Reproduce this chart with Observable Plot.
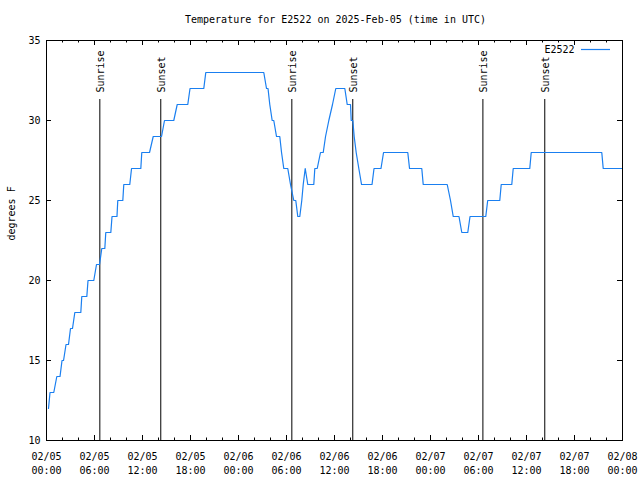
<!DOCTYPE html>
<html>
<head>
<meta charset="utf-8">
<script src="https://cdn.jsdelivr.net/npm/d3@7"></script>
<script src="https://cdn.jsdelivr.net/npm/@observablehq/plot@0.6"></script>
<style>
  html, body { margin: 0; padding: 0; background: #ffffff; }
</style>
</head>
<body>
<div id="chart"></div>
<script>
const title = "Temperature for E2522 on 2025-Feb-05 (time in UTC)";
const seriesName = "E2522";
const yLabel = "degrees F";
const startUTC = "2025-02-05T00:00:00Z";

// hours after 2025-02-05 00:00 UTC
const hours = [
  0.25, 0.44, 0.91, 1.29, 1.69, 1.94, 2.13, 2.44, 2.75, 3.0,
  3.25, 3.54, 4.29, 4.41, 5.04, 5.19, 5.91, 6.25, 6.63, 6.91,
  7.29, 7.41, 8.04, 8.19, 8.81, 8.91, 9.54, 9.66, 10.41, 10.63,
  11.79, 11.91, 12.88, 13.34, 14.38, 14.75, 15.91, 16.34, 17.66, 17.94,
  19.66, 19.91, 27.16, 27.5, 27.69, 27.91, 28.21, 28.41, 28.75, 29.16,
  29.38, 29.66, 30.16, 30.5, 30.91, 31.16, 31.41, 31.66, 31.91, 32.09,
  32.34, 32.66, 33.41, 33.54, 33.84, 34.25, 34.59, 34.88, 35.29, 35.75,
  36.16, 37.29, 37.59, 38.0, 38.09, 38.29, 38.46, 38.71, 39.04, 39.38,
  40.69, 40.94, 41.81, 42.13, 45.16, 45.38, 46.91, 47.09, 50.09, 50.5,
  50.84, 51.56, 51.91, 52.66, 52.94, 54.91, 55.15, 56.66, 56.84, 58.16,
  58.34, 60.41, 60.59, 69.41, 69.59, 72.0
];
const temps = [
  12, 13, 13, 14, 14, 15, 15, 16, 16, 17,
  17, 18, 18, 19, 19, 20, 20, 21, 21, 22,
  22, 23, 23, 24, 24, 25, 25, 26, 26, 27,
  27, 28, 28, 29, 29, 30, 30, 31, 31, 32,
  32, 33, 33, 32, 32, 31, 30, 30, 29, 29,
  28, 27, 27, 26, 25, 25, 24, 24, 25, 26,
  27, 26, 26, 27, 27, 28, 28, 29, 30, 31,
  32, 32, 31, 31, 30, 30, 29, 28, 27, 26,
  26, 27, 27, 28, 28, 27, 27, 26, 26, 25,
  24, 24, 23, 23, 24, 24, 25, 25, 26, 26,
  27, 27, 28, 28, 27, 27
];

const sunTimes = [
  "2025-02-05T06:40:00Z", "2025-02-05T14:17:00Z",
  "2025-02-06T06:40:00Z", "2025-02-06T14:17:00Z",
  "2025-02-07T06:33:00Z", "2025-02-07T14:17:00Z"
];
const sunLabels = ["Sunrise", "Sunset", "Sunrise", "Sunset", "Sunrise", "Sunset"];

const yTicks = [10, 15, 20, 25, 30, 35];
const xTicks = [
  "2025-02-05T00:00:00Z", "2025-02-05T06:00:00Z", "2025-02-05T12:00:00Z", "2025-02-05T18:00:00Z",
  "2025-02-06T00:00:00Z", "2025-02-06T06:00:00Z", "2025-02-06T12:00:00Z", "2025-02-06T18:00:00Z",
  "2025-02-07T00:00:00Z", "2025-02-07T06:00:00Z", "2025-02-07T12:00:00Z", "2025-02-07T18:00:00Z",
  "2025-02-08T00:00:00Z"
];
const xDomain = ["2025-02-05T00:00:00Z", "2025-02-08T00:00:00Z"];
const yDomain = [10, 35];

const lineColor = "#1a7ff0";
const W = 640, H = 480, mL = 46, mR = 18, mT = 40, mB = 40;
const plotW = W - mL - mR, plotH = H - mT - mB;
const majorLen = 5, minorLen = 2.5;

const t0 = new Date(startUTC).getTime();
const data = hours.map((h, i) => ({ time: new Date(t0 + h * 3600000), temp: temps[i] }));
const sun = sunTimes.map((t, i) => ({ time: new Date(t), label: sunLabels[i] }));
const majorX = xTicks.map(t => new Date(t));
const minorX = d3.utcHour.every(2).range(new Date(xDomain[0]), new Date(xDomain[1]));
const fmtDate = d3.utcFormat("%m/%d"), fmtTime = d3.utcFormat("%H:%M");

const chart = Plot.plot({
  width: W, height: H,
  marginLeft: mL, marginRight: mR, marginTop: mT, marginBottom: mB,
  style: { fontFamily: "DejaVu Sans Mono", fontSize: "10px", background: "#ffffff", color: "#000000" },
  x: { type: "utc", domain: xDomain.map(d => new Date(d)) },
  y: { domain: yDomain },
  marks: [
    // inward, mirrored tick marks
    Plot.ruleX(minorX, { stroke: "#000000", insetTop: plotH - minorLen }),
    Plot.ruleX(minorX, { stroke: "#000000", insetBottom: plotH - minorLen }),
    Plot.ruleX(majorX, { stroke: "#000000", insetTop: plotH - majorLen }),
    Plot.ruleX(majorX, { stroke: "#000000", insetBottom: plotH - majorLen }),
    Plot.ruleY(yTicks, { stroke: "#000000", insetRight: plotW - majorLen }),
    Plot.ruleY(yTicks, { stroke: "#000000", insetLeft: plotW - majorLen }),
    // tick labels
    Plot.axisX(majorX, {
      anchor: "bottom", tickSize: 0, tickPadding: 10, label: null, lineHeight: 1.4,
      tickFormat: d => fmtDate(d) + "\n" + fmtTime(d)
    }),
    Plot.axisY(yTicks, { anchor: "left", tickSize: 0, tickPadding: 6, label: null }),
    // sunrise / sunset
    Plot.ruleX(sun, { x: "time", stroke: "#000000", insetTop: 59 }),
    Plot.text(sun, { x: "time", text: "label", frameAnchor: "top", lineAnchor: "middle", dy: 52, dx: 1, rotate: -90, textAnchor: "start", fill: "#000000" }),
    // series
    Plot.line(data, { x: "time", y: "temp", stroke: lineColor, strokeWidth: 1.2 }),
    Plot.frame({ stroke: "#000000" }),
    // title, y label, legend text
    Plot.text([title], { frameAnchor: "top", lineAnchor: "middle", dy: -20.5, dx: 1, fill: "#000000" }),
    Plot.text([yLabel], { frameAnchor: "left", lineAnchor: "middle", dx: -35, rotate: -90, fill: "#000000" }),
    Plot.text([seriesName], { frameAnchor: "top-right", lineAnchor: "middle", dx: -48, dy: 9.5, textAnchor: "end", fill: "#000000" })
  ]
});

// legend sample line
d3.select(chart).append("line")
  .attr("x1", W - mR - 41).attr("x2", W - mR - 12)
  .attr("y1", mT + 9.5).attr("y2", mT + 9.5)
  .attr("stroke", lineColor).attr("stroke-width", 1.2);

document.getElementById("chart").appendChild(chart);
</script>
</body>
</html>
